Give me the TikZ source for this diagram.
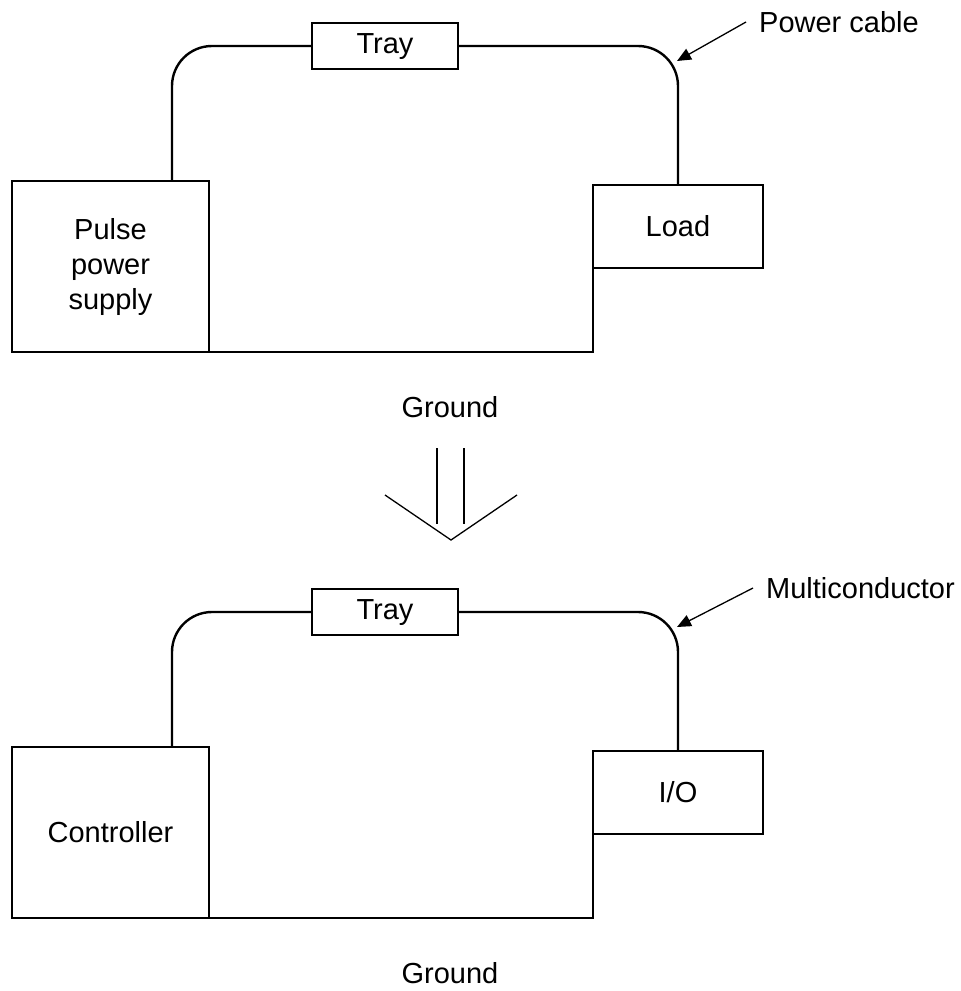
\documentclass[tikz,border=0pt]{standalone}
\usepackage{fontspec}
\setmainfont{Liberation Sans}
\usetikzlibrary{arrows.meta}

\begin{document}
\begin{tikzpicture}[x=1pt,y=-1pt,line width=2.4pt,
  txt/.style={font=\fontsize{29}{35}\selectfont,align=center,inner sep=0pt},
  box/.style={txt,draw,outer sep=0pt}]
\useasboundingbox (0,0) rectangle (961,991);
\foreach \dy/\src/\dst/\cab/\lx/\i in {0/{Pulse\\power\\supply}/Load/Power cable/758/1,566/Controller/{I/O}/Multiconductor/765/2} {
  \node[box,minimum width=197pt,minimum height=171pt] (src\i) at (110.5,266.5+\dy) {\src};
  \node[box,minimum width=170pt,minimum height=83pt] (dst\i) at (678,226.5+\dy) {\dst};
  \node[box,minimum width=146pt,minimum height=46pt,text depth=4pt] (tray\i) at (385,46+\dy) {Tray};
  \draw[rounded corners=40pt] ([xshift=61.5pt]src\i.north) |- (tray\i.west);
  \draw[rounded corners=40pt] (tray\i.east) -| (dst\i.north);
  \draw (src\i.south east) -| (dst\i.south west);
  \node[txt,anchor=west] (cab\i) at (\lx,22+\dy) {\cab};
  \coordinate (tip\i) at (677,61+\dy);
  \draw[line width=1.3pt,-{Triangle[length=14pt,width=12pt]}] ([xshift=-12pt]cab\i.west) -- (tip\i);
  \node[txt] (gnd\i) at (450,407+\dy) {Ground};
}
% hollow arrow between the two cases
\draw[line width=1.3pt] (437,448)--(437,524) (464,448)--(464,524);
\draw[line width=1.3pt] (385,495)--(451,540)--(517,495);
\end{tikzpicture}
\end{document}
